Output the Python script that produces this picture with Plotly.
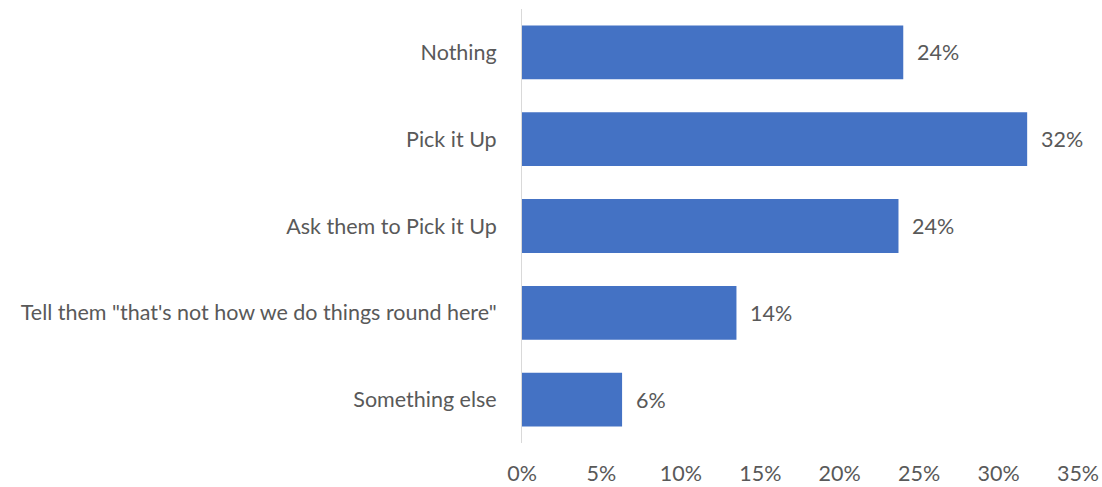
import plotly.graph_objects as go

# Survey responses (share of respondents)
categories = [
    "Nothing",
    "Pick it Up",
    "Ask them to Pick it Up",
    'Tell them "that\'s not how we do things round here"',
    "Something else",
]
shares = [0.240, 0.318, 0.237, 0.135, 0.063]
x_ticks = [0, 0.05, 0.10, 0.15, 0.20, 0.25, 0.30, 0.35]

FONT = "Lato"
SIZE = 21.5
GREY = "#595959"
BAR = "#4472C4"

fig = go.Figure(
    go.Bar(
        x=shares,
        y=categories,
        orientation="h",
        marker=dict(color=BAR, line=dict(width=0)),
        hoverinfo="skip",
    )
)

# Value labels to the right of each bar
for cat, val in zip(categories, shares):
    fig.add_annotation(
        x=val, y=cat, xref="x", yref="y",
        text=f"{val:.0%}", showarrow=False,
        xanchor="left", xshift=12,
        font=dict(family=FONT, size=SIZE, color=GREY),
    )

fig.update_layout(
    width=1102, height=487,
    margin=dict(l=522, r=24, t=9, b=44),
    paper_bgcolor="white", plot_bgcolor="white",
    bargap=0.38,
    showlegend=False,
    font=dict(family=FONT, size=SIZE, color=GREY),
)
fig.update_xaxes(
    range=[0, 0.35], tickvals=x_ticks, tickformat=".0%",
    showgrid=False, zeroline=False, showline=False,
    ticklabelstandoff=15, automargin=False,
    tickfont=dict(family=FONT, size=SIZE, color=GREY),
)
fig.update_yaxes(
    categoryorder="array", categoryarray=categories[::-1],
    showgrid=False, zeroline=False,
    showline=True, linecolor="#D9D9D9", linewidth=1,
    ticklabelstandoff=20, automargin=False,
    tickfont=dict(family=FONT, size=SIZE, color=GREY),
)

fig.write_html("out.html")
